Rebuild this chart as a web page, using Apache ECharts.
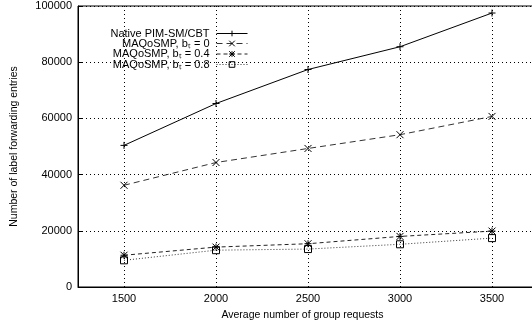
<!DOCTYPE html>
<html>
<head>
<meta charset="utf-8">
<script src="https://cdn.jsdelivr.net/npm/echarts@6/dist/echarts.min.js"></script>
<style>
  html, body { margin: 0; padding: 0; background: #fff; }
  #chart { width: 532px; height: 324px; }
</style>
</head>
<body>
<div id="chart"></div>
<script>
const groupRequests = ["1500", "2000", "2500", "3000", "3500"];
const nativePim = [50400, 65300, 77400, 85500, 97500];
const maqos0 = [36200, 44300, 49300, 54200, 60700];
const maqos04 = [11300, 14200, 15400, 18000, 19900];
const maqos08 = [9500, 13100, 13500, 15200, 17400];
const yTicks = [0, 20000, 40000, 60000, 80000, 100000];

const FONT = "Liberation Sans";
const plus = "path://M5,0L5,10M0,5L10,5";
const cross = "path://M0,0L10,10M10,0L0,10";
const star = "path://M0,0L10,10M10,0L0,10M5,0L5,10M0,5L10,5";

const seriesDefs = [
  { name: "Native PIM-SM/CBT", data: nativePim, symbol: plus, dash: "solid", color: "#000" },
  { name: "MAQoSMP, b\u209c = 0", data: maqos0, symbol: cross, dash: [6, 4], color: "#333" },
  { name: "MAQoSMP, b\u209c = 0.4", data: maqos04, symbol: star, dash: [4, 3], color: "#222" },
  { name: "MAQoSMP, b\u209c = 0.8", data: maqos08, symbol: "rect", dash: [1, 2], color: "#333" }
];

const legendTops = [28, 38, 48.5, 59];

const chart = echarts.init(document.getElementById("chart"));

chart.setOption({
  animation: false,
  textStyle: { fontFamily: FONT },
  grid: {
    left: 78, top: 6, right: -6, bottom: 37,
    outerBoundsMode: "none",
    containLabel: false,
    show: true, borderColor: "#000", borderWidth: 1
  },
  legend: seriesDefs.map((s, i) => ({
    data: [s.name],
    right: 284,
    top: legendTops[i],
    align: "right",
    padding: 0,
    itemWidth: 31,
    itemHeight: 7,
    selectedMode: false,
    lineStyle: { width: 1 },
    itemStyle: { borderWidth: 1, color: "none" },
    textStyle: {
      fontFamily: FONT,
      fontSize: 11,
      lineHeight: 11,
      color: "#000",
      padding: [0, 2, 0, 0]
    }
  })),
  xAxis: [
    {
      type: "category",
      data: groupRequests,
      boundaryGap: true,
      name: "Average number of group requests",
      nameLocation: "middle",
      nameGap: 23,
      nameTextStyle: { fontSize: 10.5, color: "#000", padding: [0, 11, 0, 0] },
      axisLine: { lineStyle: { color: "#000", width: 1 } },
      axisTick: { alignWithLabel: true, inside: true, length: 5, lineStyle: { color: "#000" } },
      axisLabel: { color: "#000", fontSize: 11, margin: 6 },
      splitLine: { show: false }
    },
    {
      type: "category",
      data: groupRequests,
      position: "top",
      boundaryGap: true,
      axisLine: { show: false },
      axisTick: { alignWithLabel: true, inside: true, length: 5, lineStyle: { color: "#000" } },
      axisLabel: { show: false },
      splitLine: { show: false }
    }
  ],
  yAxis: {
    type: "value",
    min: yTicks[0],
    max: yTicks[yTicks.length - 1],
    interval: yTicks[1] - yTicks[0],
    name: "Number of label forwarding entries",
    nameLocation: "middle",
    nameGap: 58,
    nameTextStyle: { fontSize: 10.5, color: "#000" },
    axisLine: { show: true, lineStyle: { color: "#000", width: 1 } },
    axisTick: { show: true, inside: true, length: 5, lineStyle: { color: "#000" } },
    axisLabel: { color: "#000", fontSize: 11, margin: 6, formatter: (v) => String(v) },
    splitLine: { show: true, lineStyle: { color: "#000", type: [1, 3], width: 1 } }
  },
  series: seriesDefs.map((s, i) => ({
    name: s.name,
    type: "line",
    data: s.data,
    symbol: s.symbol,
    symbolSize: 7,
    showAllSymbol: true,
    lineStyle: { color: s.color, width: 1, type: s.dash },
    itemStyle: { color: "none", borderColor: "#000", borderWidth: 1 },
    z: 3,
    markLine: i === 0 ? {
      silent: true,
      symbol: "none",
      label: { show: false },
      lineStyle: { color: "#000", type: [1, 3], width: 1 },
      data: groupRequests.map((g) => ({ xAxis: g }))
    } : undefined
  }))
});
</script>
</body>
</html>
